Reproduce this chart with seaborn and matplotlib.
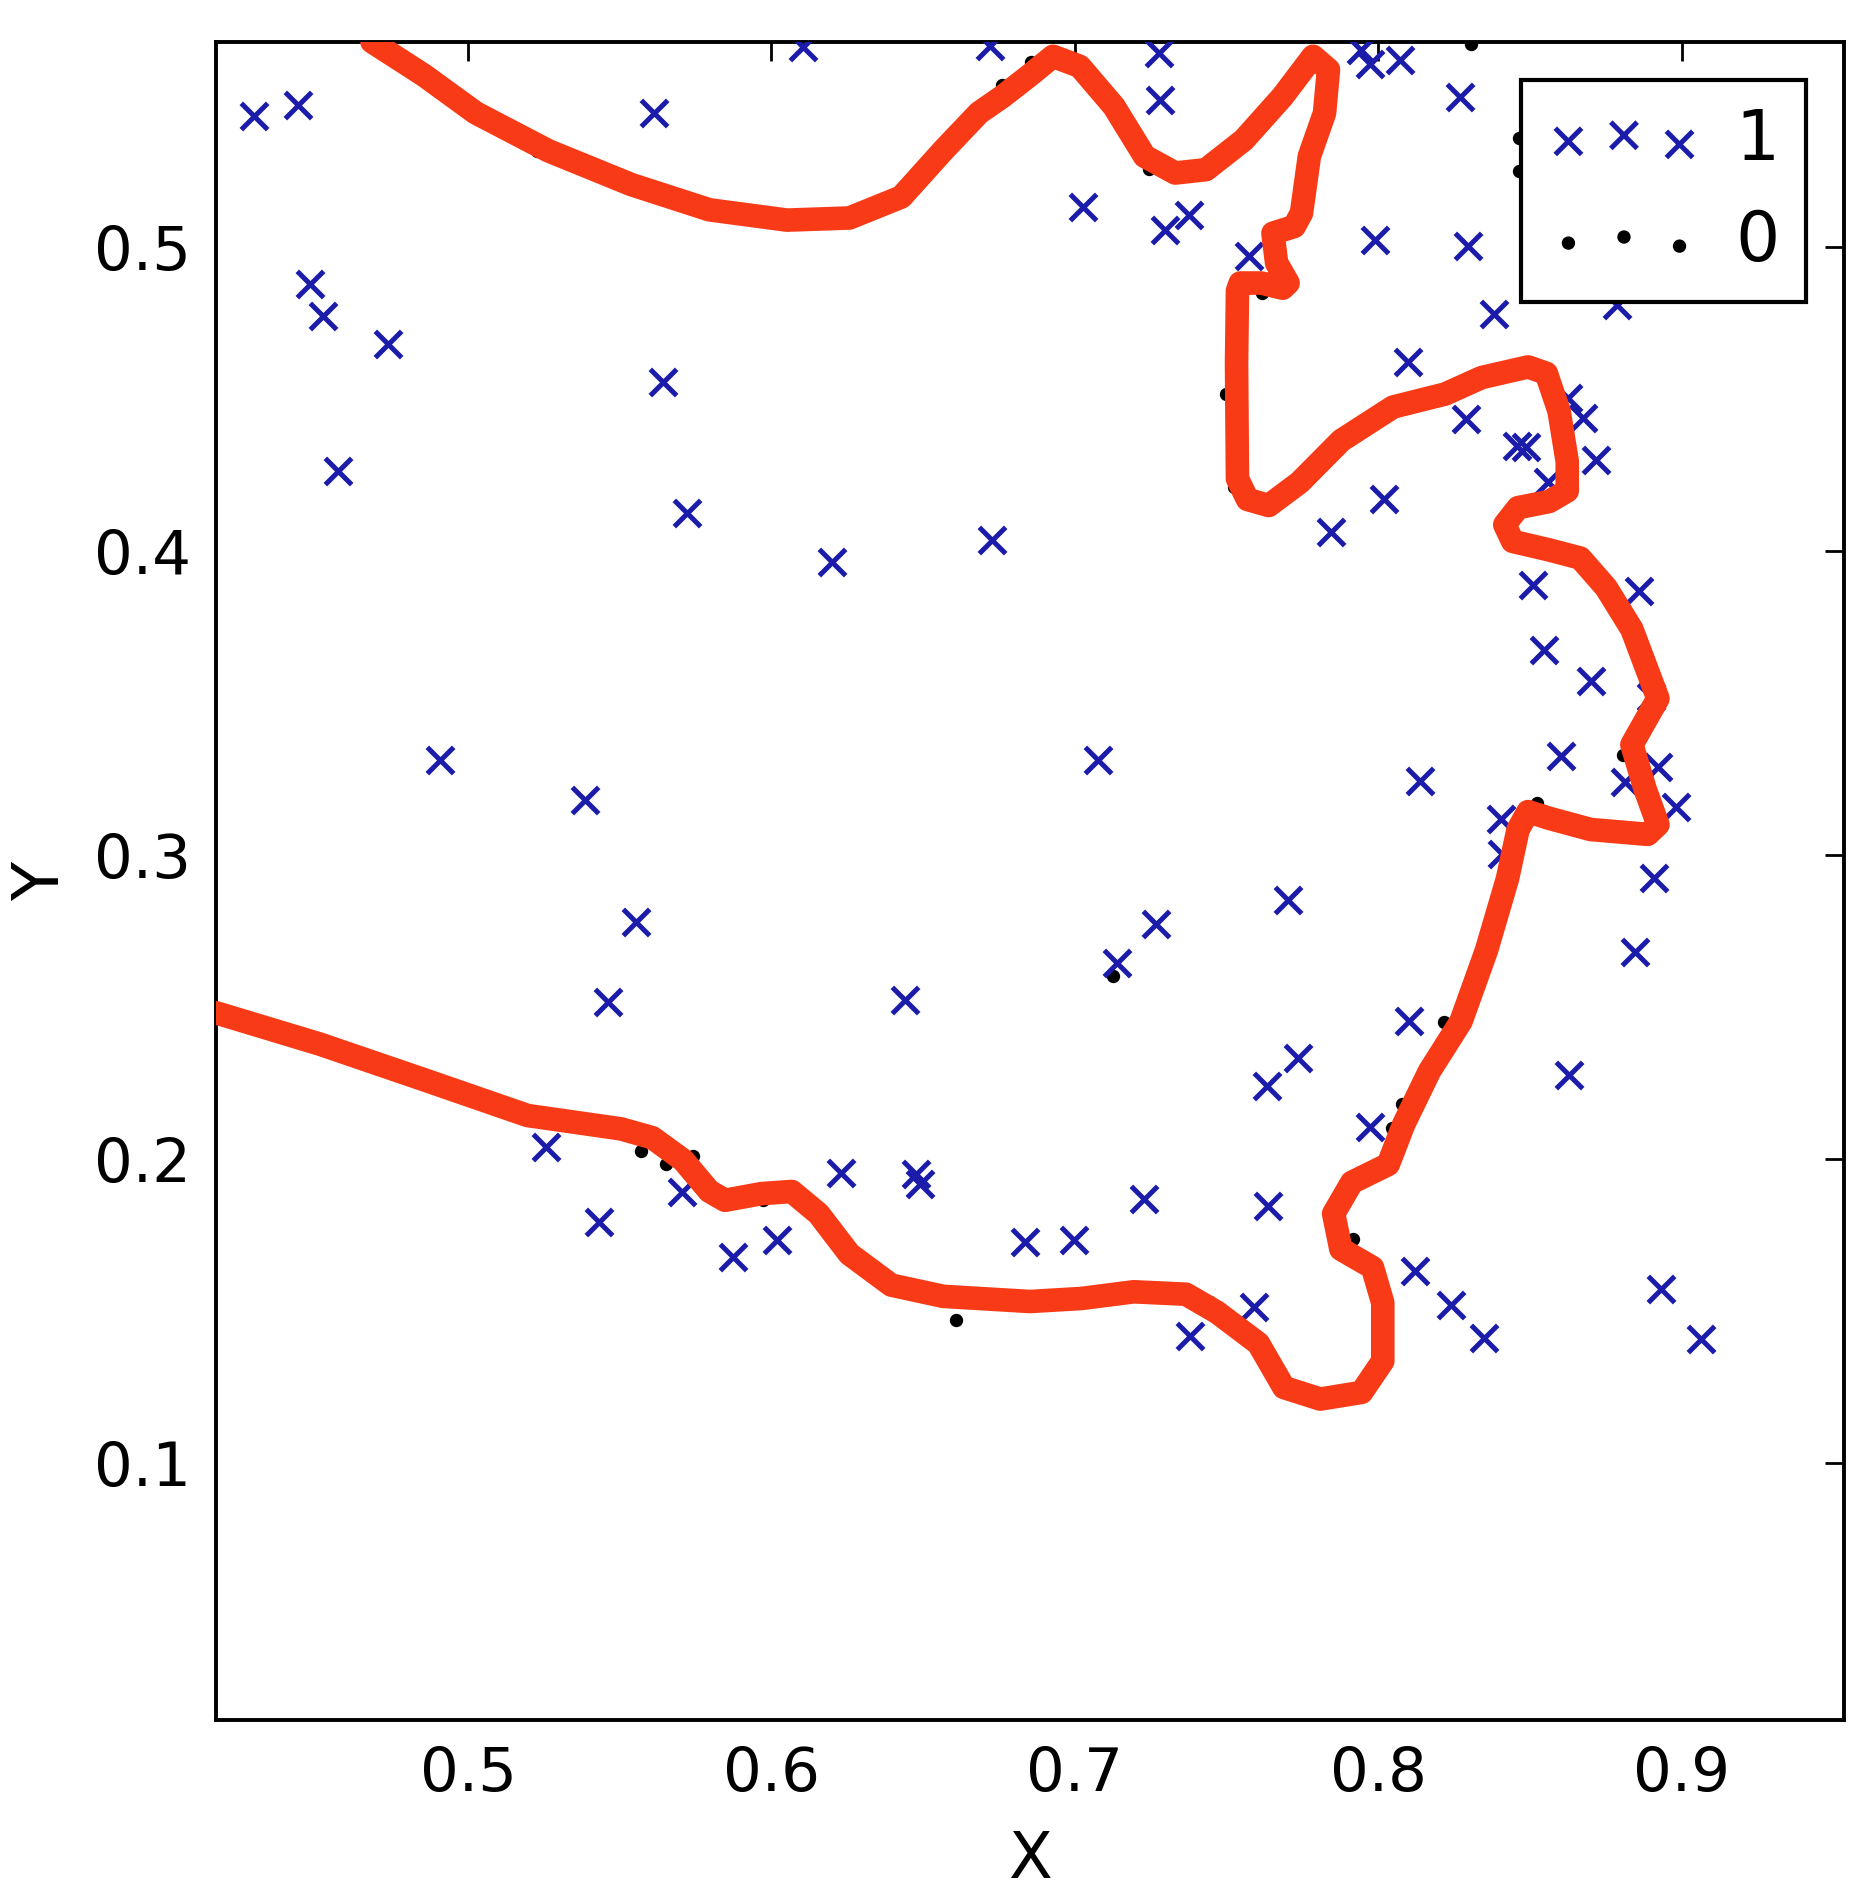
import pandas as pd
import seaborn as sns
import matplotlib.pyplot as plt

# class 1 points (blue crosses)
pos_x = [0.4295, 0.4441, 0.5612, 0.6105, 0.6720, 0.4480, 0.4523, 0.4735, 0.5641, 0.4572,
         0.5723, 0.6199, 0.6727,
         0.7276, 0.7281, 0.7943, 0.7973, 0.8071, 0.8271, 0.7028, 0.7298, 0.7375, 0.7575,
         0.7990, 0.8297, 0.8382, 0.8786, 0.8097, 0.8290, 0.8456, 0.8487, 0.8675, 0.8627,
         0.8717, 0.8558, 0.8020, 0.7845, 0.8511, 0.8858, 0.8547, 0.8700, 0.8900,
         0.4906, 0.5385, 0.5552, 0.5460, 0.6441, 0.5258, 0.5432, 0.5706, 0.5872, 0.6017,
         0.6228, 0.6476, 0.6488, 0.6835,
         0.7076, 0.8139, 0.8604, 0.8923, 0.8981, 0.8815, 0.8404, 0.8408, 0.8909, 0.8846,
         0.7703, 0.7267, 0.7139, 0.8100, 0.7737, 0.7635, 0.8630, 0.7973, 0.7228, 0.7638,
         0.6997, 0.8122, 0.8239, 0.8350, 0.8931, 0.9063, 0.7592, 0.7379]
pos_y = [0.5430, 0.5468, 0.5440, 0.5657, 0.5662, 0.4880, 0.4773, 0.4681, 0.4557, 0.4265,
         0.4124, 0.3965, 0.4037,
         0.5640, 0.5485, 0.5648, 0.5602, 0.5616, 0.5494, 0.5132, 0.5057, 0.5105, 0.4971,
         0.5022, 0.5004, 0.4780, 0.4811, 0.4621, 0.4435, 0.4345, 0.4341, 0.4438, 0.4504,
         0.4299, 0.4228, 0.4172, 0.4062, 0.3889, 0.3869, 0.3675, 0.3574, 0.3519,
         0.3313, 0.3181, 0.2780, 0.2515, 0.2523, 0.2038, 0.1792, 0.1891, 0.1679, 0.1733,
         0.1954, 0.1951, 0.1917, 0.1726,
         0.3313, 0.3243, 0.3325, 0.3291, 0.3159, 0.3240, 0.3118, 0.3005, 0.2924, 0.2682,
         0.2851, 0.2773, 0.2645, 0.2454, 0.2332, 0.2240, 0.2277, 0.2104, 0.1869, 0.1844,
         0.1733, 0.1631, 0.1521, 0.1410, 0.1572, 0.1407, 0.1513, 0.1417]

# class 0 points (black dots)
neg_x = [0.6761, 0.6855, 0.5227, 0.8307, 0.8464, 0.8464, 0.7643, 0.7618, 0.7498, 0.7524,
         0.7245, 0.7780, 0.5570, 0.5652, 0.5740, 0.5971, 0.6609, 0.7125, 0.8216, 0.8079,
         0.8045, 0.7883, 0.7917, 0.8524, 0.8806, 0.7447]
neg_y = [0.5533, 0.5608, 0.5316, 0.5667, 0.5358, 0.5250, 0.5045, 0.4849, 0.4518, 0.4210,
         0.5257, 0.5640, 0.2025, 0.1983, 0.2010, 0.1866, 0.1469, 0.2601, 0.2451, 0.2182,
         0.2101, 0.1859, 0.1738, 0.3171, 0.3328, 0.1528]

# decision boundary, traced in data units
boundary_x = [0.4169, 0.4511, 0.4854, 0.5196, 0.5504, 0.5607, 0.5709, 0.5795, 0.5847, 0.5967,
              0.6067, 0.6155, 0.6257, 0.6395, 0.6566, 0.6852, 0.7022, 0.7194, 0.7366, 0.7468,
              0.7605, 0.7689, 0.7809, 0.7945, 0.8015, 0.8015, 0.7981, 0.7877, 0.7853, 0.7913,
              0.8033, 0.8084, 0.8169, 0.8273, 0.8357, 0.8426, 0.8461, 0.8494, 0.8563, 0.8700,
              0.8888, 0.8922, 0.8880, 0.8836, 0.8922, 0.8836, 0.8751, 0.8666, 0.8563, 0.8443,
              0.8417, 0.8461, 0.8563, 0.8623, 0.8623, 0.8596, 0.8554, 0.8494, 0.8341, 0.8221,
              0.8049, 0.7878, 0.7741, 0.7639, 0.7569, 0.7536, 0.7533, 0.7536, 0.7545, 0.7615,
              0.7685, 0.7703, 0.7665, 0.7653, 0.7723, 0.7747, 0.7773, 0.7823, 0.7836, 0.7785,
              0.7685, 0.7557, 0.7432, 0.7331, 0.7230, 0.7129, 0.7016, 0.6928, 0.6852, 0.6762,
              0.6684, 0.6565, 0.6428, 0.6257, 0.6051, 0.5795, 0.5538, 0.5265, 0.5025, 0.4854,
              0.4683]
boundary_y = [0.2481, 0.2378, 0.2261, 0.2143, 0.2099, 0.2070, 0.1996, 0.1894, 0.1864, 0.1886,
              0.1893, 0.1820, 0.1687, 0.1585, 0.1548, 0.1531, 0.1541, 0.1563, 0.1555, 0.1496,
              0.1393, 0.1248, 0.1210, 0.1232, 0.1335, 0.1527, 0.1643, 0.1703, 0.1820, 0.1923,
              0.1982, 0.2114, 0.2289, 0.2453, 0.2687, 0.2922, 0.3084, 0.3143, 0.3121, 0.3084,
              0.3068, 0.3100, 0.3216, 0.3363, 0.3515, 0.3743, 0.3880, 0.3977, 0.4004, 0.4032,
              0.4087, 0.4143, 0.4163, 0.4198, 0.4295, 0.4461, 0.4585, 0.4606, 0.4571, 0.4517,
              0.4474, 0.4364, 0.4226, 0.4150, 0.4170, 0.4238, 0.4617, 0.4856, 0.4882, 0.4882,
              0.4865, 0.4882, 0.4948, 0.5046, 0.5068, 0.5112, 0.5299, 0.5441, 0.5584, 0.5628,
              0.5496, 0.5353, 0.5255, 0.5244, 0.5299, 0.5463, 0.5595, 0.5628, 0.5566, 0.5496,
              0.5442, 0.5317, 0.5165, 0.5096, 0.5089, 0.5123, 0.5206, 0.5317, 0.5442, 0.5566,
              0.5676]

x_ticks = [0.5, 0.6, 0.7, 0.8, 0.9]
y_ticks = [0.1, 0.2, 0.3, 0.4, 0.5]

sns.set_style("white")
plt.rcParams['font.family'] = ['DejaVu Sans']
plt.rcParams['text.color'] = 'black'
plt.rcParams['axes.labelcolor'] = 'black'

fig = plt.figure(figsize=(9.325, 9.505), dpi=200)
ax = fig.add_axes([0.1158, 0.0952, 0.8729, 0.8827])

pos = pd.DataFrame({'X': pos_x, 'Y': pos_y})
neg = pd.DataFrame({'X': neg_x, 'Y': neg_y})

sns.scatterplot(data=pos, x='X', y='Y', marker='x', color='#1c1caa', s=90,
                linewidth=1.8, label='1', ax=ax, zorder=3)
sns.scatterplot(data=neg, x='X', y='Y', marker='o', color='black', edgecolor='black',
                s=16, linewidth=0.8, label='0', ax=ax, zorder=2)
ax.plot(boundary_x, boundary_y, color='#f93a16', lw=8.5,
        solid_capstyle='round', solid_joinstyle='round', zorder=4)

ax.set_xlim(0.4169, 0.9535)
ax.set_ylim(0.0154, 0.5675)
ax.set_xticks(x_ticks)
ax.set_yticks(y_ticks)
ax.tick_params(direction='in', length=7, width=1, top=True, right=True,
               labelsize=22, pad=9, colors='black')
for sp in ax.spines.values():
    sp.set_color('black')
    sp.set_linewidth(1.4)

ax.set_xlabel('X', fontsize=23, labelpad=9)
ax.set_ylabel('Y', fontsize=23, labelpad=8)

leg = ax.legend(loc='upper right', scatterpoints=3, fontsize=25, fancybox=False,
                edgecolor='black', framealpha=1, borderaxespad=0.55,
                handlelength=2.2, handletextpad=0.5, labelspacing=0.5, borderpad=0.38)
leg.get_frame().set_linewidth(1.5)

plt.savefig('out.png', dpi=200)
